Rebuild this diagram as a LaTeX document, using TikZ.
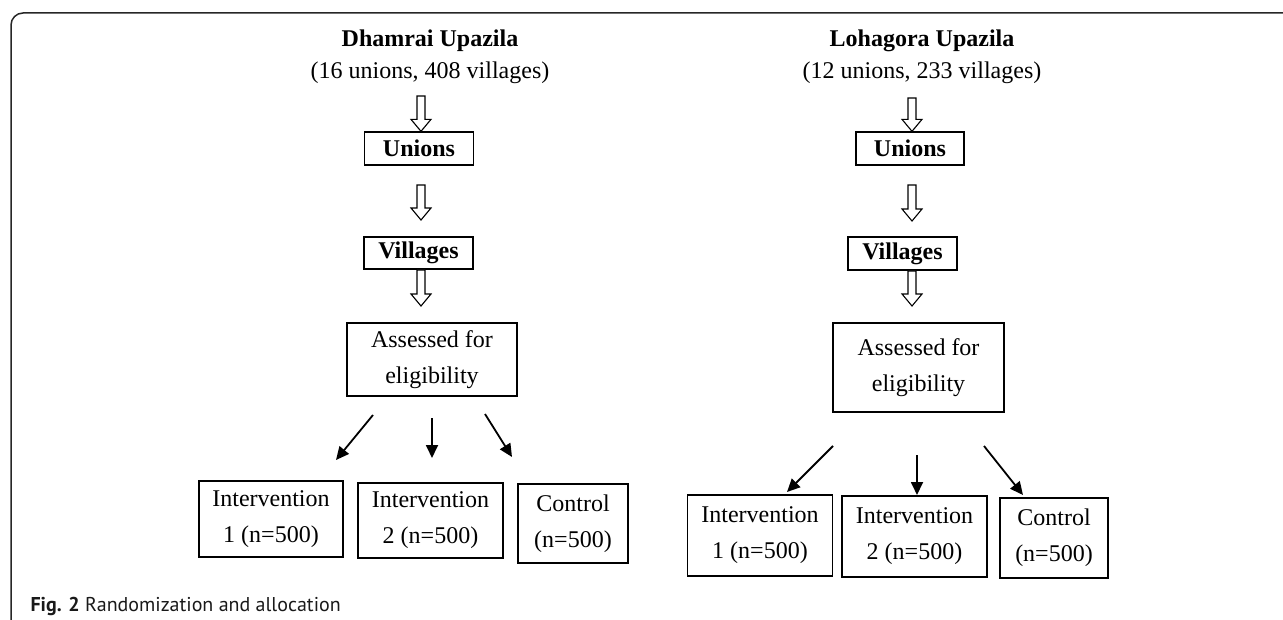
\documentclass[tikz,border=0pt]{standalone}
\usepackage{fontspec}
\setmainfont{Liberation Serif}
\newfontfamily\capfont{PT Sans}
\usetikzlibrary{calc,arrows.meta}

\tikzset{
  box/.style={draw, line width=1.3pt, align=center, inner sep=0pt, font=\fontsize{24}{36}\selectfont},
  ttl/.style={anchor=base, font=\fontsize{24}{28}\selectfont\bfseries},
  subttl/.style={anchor=base, font=\fontsize{24}{28}\selectfont},
  hollow/.style={draw, line width=1.1pt, fill=white, line join=miter},
  arr/.style={line width=1.8pt, -{Triangle[length=13pt,width=12pt]}},
}
% hollow down arrow from #1 down to the height of #2
\newcommand{\harrow}[2]{%
  \draw[hollow] ($(#1)+(-4,0)$) -- ($(#1|-#2)+(-4,-12)$) -- ($(#1|-#2)+(-10,-12)$)
    -- (#1|-#2) -- ($(#1|-#2)+(10,-12)$) -- ($(#1|-#2)+(4,-12)$) -- ($(#1)+(4,0)$) -- cycle;}

\begin{document}
\begin{tikzpicture}[x=1pt,y=-1pt]
\useasboundingbox (0,0) rectangle (1283,620);
% frame
\draw[line width=1.5pt, black!85, rounded corners=12pt] (11,620) -- (11,13) -- (1283,13);

% Dhamrai column
\node[ttl] (titleA) at (430,47) {Dhamrai Upazila};
\node[subttl] (subA) at (430,79) {(16 unions, 408 villages)};
\node[box, minimum width=109pt, minimum height=33pt] (unionsA) at (419,148.5) {\textbf{Unions}};
\node[box, minimum width=109pt, minimum height=32pt] (villA) at (418.5,253) {\textbf{Villages}};
\node[box, minimum width=170pt, minimum height=73pt] (assA) at (432,359.5) {Assessed for\\eligibility};
\node[box, minimum width=144pt, minimum height=76pt] (intA1) at (271,519) {Intervention\\1 (n=500)};
\node[box, minimum width=145pt, minimum height=75pt] (intA2) at (430.5,520.5) {Intervention\\2 (n=500)};
\node[box, minimum width=110pt, minimum height=79pt] (ctrlA) at (573,523.5) {Control\\(n=500)};

% Lohagora column
\node[ttl] (titleB) at (922,47) {Lohagora Upazila};
\node[subttl] (subB) at (922,79) {(12 unions, 233 villages)};
\node[box, minimum width=108pt, minimum height=33pt] (unionsB) at (910,148.5) {\textbf{Unions}};
\node[box, minimum width=109pt, minimum height=33pt] (villB) at (902.5,253.5) {\textbf{Villages}};
\node[box, minimum width=171pt, minimum height=89pt] (assB) at (918.5,367.5) {Assessed for\\eligibility};
\node[box, minimum width=145pt, minimum height=81pt] (intB1) at (760,535.5) {Intervention\\1 (n=500)};
\node[box, minimum width=145pt, minimum height=81pt] (intB2) at (914.5,536.5) {Intervention\\2 (n=500)};
\node[box, minimum width=108pt, minimum height=80pt] (ctrlB) at (1054,538) {Control\\(n=500)};

% hollow arrows
\coordinate (hA1) at (421,96);  \coordinate (hA2) at (421,185);
\coordinate (hA3) at (421,270); \coordinate (hA2e) at (421,220);
\coordinate (hA3e) at (421,306);
\coordinate (hB1) at (912,98);  \coordinate (hB2) at (912,185);
\coordinate (hB3) at (912,271); \coordinate (hB2e) at (912,221);
\coordinate (hB3e) at (912,306);
\harrow{hA1}{unionsA.north}
\harrow{hA2}{hA2e}
\harrow{hA3}{hA3e}
\harrow{hB1}{unionsB.north}
\harrow{hB2}{hB2e}
\harrow{hB3}{hB3e}

% allocation arrows
\coordinate (sA1) at (373,415); \coordinate (eA1) at (336,460);
\coordinate (sA2) at (432,418); \coordinate (eA2) at (432,458);
\coordinate (sA3) at (485,414); \coordinate (eA3) at (512,457);
\coordinate (sB1) at (833,446); \coordinate (eB1) at (787,492);
\coordinate (sB2) at (917,455); \coordinate (eB2) at (917,495);
\coordinate (sB3) at (984,446); \coordinate (eB3) at (1023,495);
\foreach \c in {A,B}
  \foreach \i in {1,2,3}
    \draw[arr] (s\c\i) -- (e\c\i);

% caption
\node[anchor=base west, font=\capfont\fontsize{20}{22}\selectfont, text=black!90] (cap) at (27,611)
  {\textbf{Fig. 2} Randomization and allocation};
\end{tikzpicture}
\end{document}
